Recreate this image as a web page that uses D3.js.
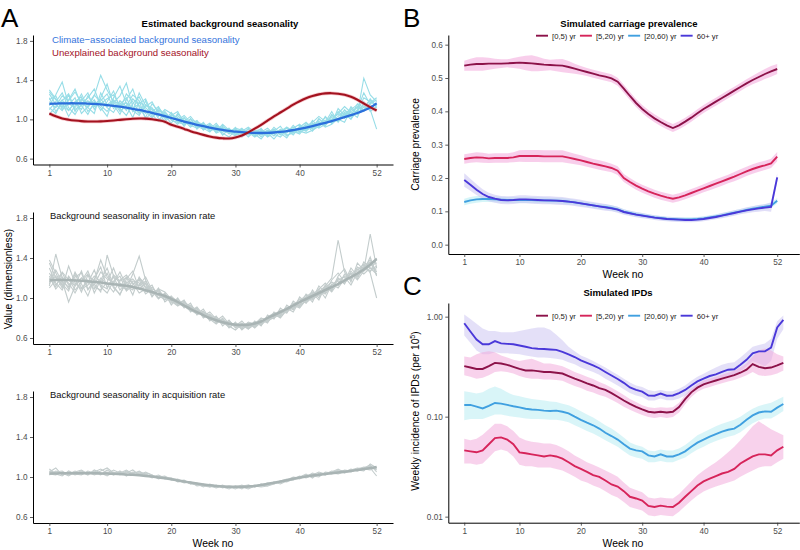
<!DOCTYPE html>
<html><head><meta charset="utf-8">
<script src="https://cdn.jsdelivr.net/npm/d3@7"></script>
<style>body{margin:0;background:#fff} svg{display:block} text{font-family:"Liberation Sans",Arial,sans-serif}</style>
</head><body><svg id="c" width="800" height="550"></svg>
<script>
// ---------- DATA ----------
const weeksA = d3.range(1, 53);
const weeksB = d3.range(1, 53);
const weeksC = d3.range(1, 54);
const xTickVals = [1, 10, 20, 30, 40, 52];
const seasonTicks = [0.6, 1.0, 1.4, 1.8];
const carriageTicks = [0, 0.1, 0.2, 0.3, 0.4, 0.5, 0.6];
const ipdTicks = [0.01, 0.1, 1];
const ageGroups = ["[0,5) yr", "[5,20) yr", "[20,60) yr", "60+ yr"];

// Panel A top: climate-associated smooth (blue) and unexplained (red)
const climateSmooth = [1.158,1.161,1.163,1.164,1.164,1.163,1.161,1.158,1.153,1.146,1.138,1.129,1.119,1.108,1.096,1.082,1.067,1.050,1.032,1.014,0.996,0.978,0.961,0.945,0.930,0.916,0.903,0.892,0.882,0.875,0.869,0.865,0.862,0.861,0.862,0.866,0.872,0.880,0.891,0.903,0.917,0.932,0.948,0.965,0.983,1.002,1.022,1.043,1.065,1.090,1.120,1.163];
const unexplained = [1.060,1.032,1.010,0.997,0.988,0.982,0.979,0.978,0.980,0.984,0.989,0.995,1.001,1.006,1.009,1.008,1.002,0.991,0.976,0.945,0.925,0.903,0.880,0.860,0.842,0.826,0.814,0.807,0.805,0.815,0.835,0.868,0.905,0.945,0.988,1.030,1.070,1.110,1.150,1.185,1.215,1.238,1.255,1.265,1.267,1.262,1.250,1.230,1.200,1.162,1.125,1.090];
const climateRuns = [
[1.30,1.21,1.12,1.25,1.08,1.19,1.27,1.10,1.22,1.36,1.15,1.05,1.20,1.31,1.12,1.02,1.16,1.08,0.97,1.05,1.02,0.93,1.01,0.90,0.96,0.88,0.93,0.84,0.90,0.86,0.83,0.91,0.85,0.80,0.88,0.83,0.90,0.86,0.94,0.87,0.96,0.90,1.01,0.94,1.05,0.99,1.10,1.03,1.16,1.12,1.20,1.14],
[1.22,1.08,1.17,1.03,1.14,1.26,1.12,1.20,1.09,1.18,1.29,1.11,1.04,1.16,1.23,1.09,1.01,1.12,1.04,0.96,1.06,0.99,0.92,0.98,0.89,0.95,0.87,0.92,0.85,0.91,0.89,0.82,0.88,0.90,0.84,0.92,0.86,0.81,0.91,0.95,0.88,0.99,0.92,1.03,0.96,1.08,1.01,1.13,1.06,1.42,1.25,1.18],
[1.14,1.25,1.38,1.15,1.22,1.06,1.13,1.24,1.45,1.30,1.18,1.08,1.14,1.02,1.18,1.12,1.05,0.98,1.08,1.00,0.95,1.02,0.94,0.91,0.97,0.88,0.91,0.86,0.82,0.89,0.86,0.90,0.83,0.87,0.91,0.85,0.82,0.89,0.84,0.92,0.97,0.91,0.95,1.02,0.96,1.11,1.04,1.01,1.09,1.15,1.10,0.90],
[1.26,1.15,1.09,1.20,1.31,1.14,1.05,1.18,1.12,1.03,1.22,1.34,1.16,1.09,1.04,1.15,1.10,1.01,0.99,1.07,0.98,0.95,1.00,0.93,0.90,0.94,0.86,0.89,0.91,0.84,0.88,0.85,0.89,0.82,0.87,0.90,0.84,0.92,0.88,0.85,0.93,0.97,1.03,0.98,1.00,1.06,1.13,1.07,1.02,1.18,1.08,1.13],
[1.10,1.18,1.27,1.12,1.05,1.16,1.22,1.31,1.14,1.08,1.17,1.24,1.37,1.13,1.06,1.19,1.02,1.09,1.05,1.00,1.04,0.97,0.95,0.99,0.91,0.87,0.94,0.90,0.87,0.83,0.90,0.86,0.84,0.89,0.86,0.80,0.88,0.91,0.86,0.90,0.88,0.94,0.98,0.93,1.04,1.00,0.97,1.10,1.15,1.09,1.21,1.12],
[1.18,1.12,1.20,1.09,1.17,1.10,1.24,1.14,1.19,1.26,1.11,1.17,1.09,1.21,1.14,1.06,1.11,1.04,1.07,0.99,0.97,1.01,0.96,0.93,0.95,0.91,0.89,0.93,0.88,0.90,0.85,0.88,0.86,0.84,0.87,0.89,0.85,0.88,0.92,0.89,0.91,0.96,0.94,0.99,1.02,1.05,1.03,1.08,1.12,1.10,1.16,1.20],
[1.05,1.13,1.24,1.19,1.28,1.17,1.12,1.06,1.27,1.15,1.20,1.10,1.26,1.18,1.07,1.13,1.18,1.06,1.01,1.04,1.08,0.96,0.98,0.92,0.94,0.90,0.96,0.88,0.86,0.92,0.82,0.87,0.85,0.91,0.83,0.88,0.93,0.84,0.86,0.93,0.89,0.92,1.00,0.96,0.99,1.03,1.09,1.05,1.13,1.08,1.17,1.22],
[1.28,1.20,1.14,1.09,1.18,1.23,1.08,1.15,1.21,1.12,1.07,1.19,1.13,1.25,1.19,1.00,1.08,1.13,1.02,1.03,0.99,1.04,0.97,0.96,0.92,0.96,0.90,0.87,0.90,0.87,0.91,0.84,0.87,0.85,0.89,0.86,0.89,0.87,0.90,0.88,0.86,0.89,0.93,0.97,1.08,0.97,1.06,1.00,1.10,1.27,1.15,1.10],
[1.12,1.06,1.19,1.26,1.10,1.14,1.19,1.13,1.16,1.21,1.25,1.14,1.17,1.11,1.16,1.21,1.06,1.10,1.05,1.02,1.01,0.98,1.03,0.95,0.93,0.89,0.92,0.91,0.86,0.88,0.89,0.87,0.82,0.86,0.88,0.87,0.89,0.83,0.88,0.91,0.94,0.88,0.97,0.92,0.95,1.01,1.05,1.11,1.05,1.13,1.11,1.17],
[1.20,1.24,1.10,1.16,1.12,1.21,1.15,1.25,1.17,1.13,1.19,1.15,1.22,1.08,1.27,1.14,1.12,1.03,1.10,1.06,0.97,0.95,1.00,0.97,0.95,0.92,0.88,0.95,0.89,0.85,0.88,0.92,0.87,0.88,0.82,0.86,0.88,0.92,0.87,0.87,0.90,0.95,0.91,0.95,1.00,0.98,1.07,1.04,1.08,1.22,1.18,1.14]
];
// Panel A middle: invasion rate
const invasionSmooth = [1.178,1.180,1.180,1.179,1.176,1.172,1.167,1.161,1.154,1.146,1.138,1.131,1.122,1.110,1.095,1.078,1.060,1.040,1.020,0.990,0.960,0.925,0.890,0.858,0.828,0.800,0.777,0.757,0.742,0.733,0.730,0.733,0.745,0.765,0.800,0.830,0.860,0.890,0.925,0.960,0.990,1.020,1.050,1.080,1.110,1.140,1.175,1.210,1.245,1.285,1.335,1.390];
const invasionRuns = [
[1.38,1.25,1.12,1.20,1.08,1.16,1.24,1.05,1.18,1.30,1.12,1.03,1.19,1.27,1.09,1.15,1.02,1.10,0.96,1.01,0.94,0.98,0.86,0.90,0.80,0.84,0.75,0.79,0.70,0.76,0.68,0.74,0.71,0.78,0.75,0.86,0.82,0.93,0.88,1.01,0.95,1.08,1.00,1.13,1.07,1.20,1.14,1.27,1.19,1.33,1.26,1.40],
[1.12,1.44,1.20,1.09,1.26,1.14,1.02,1.19,1.31,1.10,1.21,1.08,1.16,1.03,1.21,1.11,1.07,0.99,1.05,0.93,1.00,0.90,0.95,0.83,0.87,0.77,0.82,0.72,0.78,0.70,0.75,0.69,0.77,0.72,0.83,0.79,0.90,0.85,0.97,0.92,1.04,0.99,1.12,1.05,1.18,1.25,1.16,1.30,1.22,1.36,1.30,1.24],
[1.30,1.15,1.08,1.22,1.13,1.27,1.09,1.14,1.06,1.43,1.22,1.15,1.09,1.24,1.42,1.18,1.04,1.08,1.01,0.97,0.92,0.96,0.88,0.84,0.89,0.79,0.74,0.80,0.72,0.68,0.74,0.71,0.76,0.73,0.79,0.84,0.80,0.88,0.95,0.91,0.99,1.05,0.98,1.12,1.20,1.58,1.26,1.18,1.31,1.27,1.41,1.22],
[1.22,1.09,1.17,0.96,1.12,1.20,1.15,1.28,1.11,1.05,1.17,1.22,1.07,1.13,1.18,1.06,1.11,1.03,0.98,1.02,0.95,0.91,0.93,0.87,0.82,0.86,0.79,0.75,0.77,0.72,0.70,0.76,0.74,0.80,0.77,0.81,0.87,0.90,0.86,0.97,1.03,0.96,1.09,1.15,1.08,1.22,1.29,1.16,1.35,1.28,1.64,1.30],
[1.10,1.18,1.25,1.13,1.19,1.06,1.23,1.17,1.38,1.21,1.15,1.26,1.12,1.08,1.20,1.14,1.01,1.09,1.06,0.99,0.94,0.97,0.90,0.86,0.84,0.78,0.81,0.76,0.73,0.75,0.69,0.73,0.72,0.75,0.81,0.85,0.83,0.91,0.89,0.94,1.01,1.06,1.03,1.10,1.16,1.12,1.24,1.19,1.28,1.34,1.25,1.00],
[1.35,1.20,1.14,1.07,1.24,1.10,1.16,1.09,1.20,1.14,1.06,1.18,1.23,1.15,1.05,1.09,1.13,1.00,1.03,0.95,0.98,0.92,0.87,0.91,0.83,0.80,0.77,0.82,0.74,0.72,0.77,0.70,0.73,0.78,0.76,0.82,0.88,0.86,0.92,0.99,0.95,1.01,1.07,1.04,1.13,1.18,1.21,1.13,1.26,1.31,1.38,1.26],
[1.16,1.22,1.10,1.32,1.15,1.09,1.13,1.22,1.16,1.25,1.10,1.04,1.15,1.19,1.12,1.17,1.06,1.03,1.00,0.97,0.99,0.93,0.91,0.85,0.86,0.82,0.76,0.78,0.75,0.71,0.72,0.75,0.70,0.76,0.78,0.80,0.84,0.89,0.91,0.93,0.97,1.03,1.09,1.00,1.14,1.10,1.19,1.25,1.18,1.27,1.32,1.35],
[1.25,1.13,1.21,1.15,1.05,1.17,1.27,1.11,1.08,1.16,1.30,1.13,1.08,1.17,1.15,1.04,1.09,1.06,1.02,1.00,0.96,0.94,0.89,0.88,0.81,0.83,0.80,0.74,0.76,0.73,0.71,0.72,0.75,0.74,0.79,0.83,0.85,0.87,0.90,0.96,1.00,0.98,1.04,1.09,1.13,1.17,1.15,1.22,1.29,1.24,1.30,1.29],
[1.14,1.28,1.16,1.11,1.21,1.25,1.08,1.19,1.13,1.09,1.23,1.17,1.20,1.10,1.13,1.21,1.08,1.00,1.04,0.98,0.93,0.95,0.92,0.86,0.85,0.81,0.78,0.76,0.71,0.74,0.73,0.69,0.74,0.76,0.77,0.84,0.81,0.88,0.93,0.90,0.98,1.00,1.06,1.12,1.06,1.15,1.22,1.20,1.23,1.30,1.36,1.23],
[1.20,1.11,1.26,1.18,1.12,1.20,1.18,1.13,1.26,1.19,1.16,1.11,1.21,1.14,1.19,1.10,1.05,1.07,1.00,1.01,0.97,0.92,0.90,0.89,0.84,0.79,0.79,0.77,0.73,0.74,0.74,0.74,0.72,0.79,0.80,0.82,0.86,0.85,0.94,0.95,0.99,1.04,1.02,1.07,1.10,1.14,1.17,1.24,1.21,1.29,1.27,1.32]
];
// Panel A bottom: acquisition rate
const acquisitionSmooth = [1.035,1.036,1.037,1.038,1.038,1.038,1.038,1.037,1.036,1.034,1.032,1.029,1.026,1.022,1.017,1.011,1.004,0.996,0.987,0.977,0.966,0.955,0.944,0.934,0.925,0.917,0.911,0.906,0.903,0.902,0.903,0.906,0.911,0.921,0.932,0.943,0.955,0.968,0.982,0.995,1.005,1.014,1.022,1.030,1.037,1.045,1.053,1.061,1.070,1.079,1.089,1.100];
const acquisitionRuns = [
[1.08,1.03,1.01,1.06,1.03,1.05,1.02,1.07,1.04,1.01,1.05,1.03,1.06,1.02,1.04,1.01,1.00,1.02,0.99,0.98,0.96,0.97,0.93,0.94,0.91,0.92,0.90,0.92,0.89,0.91,0.88,0.92,0.90,0.93,0.92,0.95,0.94,0.97,0.99,0.98,1.02,1.00,1.03,1.02,1.05,1.04,1.07,1.06,1.08,1.07,1.10,1.08],
[1.02,1.06,1.04,1.01,1.05,1.07,1.03,1.05,1.08,1.04,1.02,1.06,1.01,1.05,1.03,1.04,1.02,0.99,1.00,0.97,0.98,0.95,0.94,0.92,0.93,0.90,0.92,0.89,0.91,0.90,0.92,0.89,0.91,0.92,0.94,0.93,0.96,0.98,0.97,1.00,1.01,1.03,1.01,1.04,1.03,1.06,1.05,1.08,1.06,1.09,1.12,1.05],
[1.05,1.09,1.02,1.04,1.03,1.02,1.06,1.04,1.02,1.07,1.03,1.05,1.04,1.07,1.02,1.03,0.99,1.01,0.98,0.99,0.95,0.96,0.95,0.91,0.92,0.91,0.89,0.91,0.90,0.88,0.91,0.92,0.90,0.92,0.93,0.94,0.95,0.97,1.00,0.99,1.00,1.04,1.02,1.03,1.06,1.05,1.04,1.07,1.09,1.08,1.07,1.10],
[1.03,1.02,1.05,1.03,1.06,1.03,1.04,1.03,1.06,1.09,1.04,1.02,1.05,1.03,1.06,1.02,1.01,1.00,1.01,0.97,0.97,0.96,0.93,0.93,0.90,0.93,0.91,0.90,0.88,0.91,0.90,0.90,0.92,0.91,0.92,0.95,0.93,0.96,0.98,1.01,0.99,1.02,1.05,1.03,1.04,1.07,1.06,1.05,1.08,1.10,1.09,1.01],
[1.06,1.04,1.03,1.05,1.02,1.04,1.05,1.02,1.04,1.03,1.07,1.04,1.02,1.04,1.05,1.03,1.00,1.00,0.99,0.98,0.96,0.95,0.94,0.92,0.91,0.90,0.91,0.90,0.90,0.89,0.89,0.91,0.91,0.90,0.91,0.93,0.95,0.96,0.97,0.99,1.02,1.01,1.00,1.05,1.04,1.03,1.05,1.07,1.06,1.08,1.11,1.07],
[1.04,1.05,1.06,1.02,1.04,1.06,1.03,1.06,1.03,1.05,1.02,1.04,1.07,1.03,1.02,1.05,1.02,0.98,1.00,0.99,0.97,0.94,0.95,0.93,0.92,0.91,0.90,0.91,0.91,0.90,0.90,0.88,0.91,0.93,0.91,0.94,0.96,0.95,0.98,1.00,1.03,0.99,1.04,1.02,1.05,1.08,1.04,1.06,1.07,1.06,1.13,1.09]
];

// Panel B: carriage prevalence (mean and half-width of band)
const carriage0_5 = [0.537,0.540,0.542,0.542,0.543,0.543,0.543,0.544,0.545,0.546,0.545,0.544,0.542,0.540,0.539,0.538,0.537,0.533,0.528,0.523,0.518,0.513,0.508,0.504,0.499,0.489,0.468,0.446,0.425,0.407,0.392,0.379,0.368,0.358,0.350,0.358,0.369,0.381,0.394,0.407,0.418,0.429,0.440,0.451,0.462,0.473,0.484,0.494,0.503,0.512,0.520,0.527];
const carriage0_5sd = [0.015,0.018,0.020,0.020,0.018,0.015,0.013,0.012,0.015,0.018,0.022,0.024,0.022,0.018,0.016,0.018,0.020,0.018,0.015,0.013,0.012,0.012,0.012,0.012,0.012,0.012,0.012,0.012,0.012,0.012,0.012,0.012,0.012,0.012,0.012,0.012,0.012,0.012,0.012,0.012,0.012,0.012,0.012,0.012,0.012,0.012,0.012,0.013,0.014,0.015,0.016,0.015];
const carriage5_20 = [0.257,0.260,0.262,0.261,0.259,0.260,0.260,0.260,0.262,0.266,0.266,0.266,0.266,0.265,0.265,0.265,0.265,0.261,0.257,0.253,0.248,0.243,0.239,0.235,0.230,0.222,0.200,0.188,0.177,0.168,0.160,0.153,0.147,0.142,0.138,0.142,0.148,0.155,0.162,0.169,0.176,0.183,0.190,0.197,0.204,0.212,0.220,0.227,0.233,0.238,0.244,0.264];
const carriage5_20sd = [0.014,0.014,0.015,0.015,0.014,0.014,0.014,0.014,0.015,0.017,0.018,0.018,0.018,0.018,0.018,0.018,0.018,0.017,0.016,0.015,0.014,0.014,0.014,0.014,0.013,0.013,0.012,0.012,0.012,0.012,0.012,0.012,0.012,0.012,0.012,0.012,0.012,0.012,0.012,0.012,0.013,0.013,0.013,0.013,0.014,0.014,0.014,0.014,0.014,0.014,0.014,0.014];
const carriage20_60 = [0.128,0.133,0.136,0.137,0.137,0.136,0.135,0.134,0.134,0.134,0.134,0.134,0.133,0.133,0.132,0.132,0.131,0.129,0.127,0.124,0.121,0.118,0.115,0.113,0.110,0.106,0.099,0.095,0.091,0.088,0.085,0.082,0.080,0.078,0.077,0.076,0.076,0.076,0.077,0.079,0.082,0.085,0.088,0.092,0.096,0.100,0.104,0.108,0.111,0.114,0.117,0.132];
const carriage20_60sd = [0.010,0.010,0.010,0.009,0.009,0.009,0.009,0.009,0.009,0.009,0.009,0.009,0.009,0.009,0.009,0.009,0.009,0.009,0.008,0.008,0.008,0.008,0.008,0.008,0.008,0.008,0.007,0.007,0.007,0.007,0.006,0.006,0.006,0.006,0.006,0.006,0.006,0.006,0.006,0.006,0.006,0.006,0.007,0.007,0.007,0.007,0.007,0.007,0.008,0.008,0.008,0.008];
const carriage60 = [0.194,0.180,0.165,0.152,0.143,0.138,0.134,0.133,0.134,0.136,0.136,0.135,0.134,0.133,0.133,0.132,0.131,0.129,0.127,0.124,0.121,0.118,0.115,0.112,0.109,0.105,0.098,0.094,0.090,0.087,0.084,0.081,0.079,0.077,0.076,0.075,0.074,0.074,0.075,0.077,0.080,0.083,0.087,0.091,0.095,0.099,0.103,0.106,0.109,0.111,0.113,0.202];
const carriage60sd = [0.020,0.018,0.016,0.014,0.013,0.012,0.012,0.012,0.012,0.012,0.012,0.012,0.012,0.012,0.012,0.012,0.012,0.011,0.011,0.011,0.010,0.010,0.010,0.010,0.009,0.009,0.008,0.008,0.008,0.008,0.007,0.007,0.007,0.007,0.007,0.007,0.007,0.007,0.007,0.007,0.007,0.007,0.008,0.008,0.008,0.008,0.009,0.009,0.010,0.010,0.014,0.012];

// Panel C: weekly incidence of IPDs per 1e5 (mean, lower, upper)
const ipd0_5 = [0.32,0.31,0.30,0.30,0.32,0.345,0.34,0.33,0.315,0.30,0.29,0.29,0.285,0.28,0.28,0.275,0.27,0.255,0.24,0.228,0.215,0.205,0.193,0.185,0.172,0.158,0.145,0.134,0.125,0.118,0.112,0.11,0.112,0.11,0.112,0.125,0.15,0.175,0.195,0.21,0.22,0.23,0.24,0.25,0.26,0.275,0.295,0.335,0.315,0.305,0.31,0.325,0.345];
const ipd0_5hi = [0.40,0.39,0.42,0.44,0.45,0.44,0.41,0.39,0.37,0.36,0.37,0.38,0.36,0.34,0.34,0.33,0.32,0.30,0.28,0.265,0.25,0.238,0.222,0.21,0.195,0.18,0.165,0.15,0.14,0.13,0.124,0.122,0.124,0.123,0.124,0.138,0.165,0.19,0.212,0.23,0.24,0.25,0.262,0.275,0.29,0.31,0.34,0.40,0.46,0.48,0.46,0.42,0.40];
const ipd0_5lo = [0.26,0.25,0.24,0.245,0.26,0.28,0.285,0.28,0.27,0.255,0.245,0.24,0.24,0.235,0.235,0.232,0.228,0.215,0.203,0.193,0.182,0.174,0.165,0.158,0.148,0.137,0.126,0.117,0.11,0.104,0.099,0.097,0.099,0.097,0.099,0.11,0.133,0.157,0.177,0.19,0.198,0.207,0.216,0.225,0.233,0.245,0.26,0.28,0.26,0.255,0.26,0.27,0.29];
const ipd5_20 = [0.046,0.045,0.044,0.046,0.053,0.061,0.062,0.059,0.053,0.044,0.043,0.042,0.041,0.04,0.041,0.04,0.038,0.035,0.032,0.03,0.028,0.026,0.025,0.023,0.021,0.02,0.018,0.0158,0.0152,0.0145,0.0128,0.0125,0.0129,0.0126,0.0125,0.0138,0.0158,0.018,0.0205,0.0225,0.024,0.0255,0.027,0.028,0.03,0.034,0.037,0.04,0.042,0.042,0.041,0.046,0.05];
const ipd5_20hi = [0.06,0.058,0.06,0.066,0.075,0.085,0.085,0.08,0.072,0.062,0.058,0.056,0.055,0.054,0.054,0.052,0.049,0.045,0.041,0.038,0.035,0.033,0.031,0.029,0.027,0.025,0.022,0.0195,0.0185,0.0175,0.0155,0.0152,0.0155,0.0153,0.0152,0.0168,0.0195,0.0225,0.026,0.029,0.032,0.035,0.039,0.044,0.05,0.058,0.068,0.08,0.09,0.082,0.075,0.07,0.065];
const ipd5_20lo = [0.034,0.034,0.033,0.034,0.039,0.045,0.047,0.045,0.04,0.033,0.032,0.032,0.031,0.031,0.031,0.03,0.029,0.027,0.025,0.023,0.022,0.0205,0.0195,0.018,0.0165,0.0155,0.014,0.0125,0.012,0.0115,0.0103,0.0101,0.0104,0.0102,0.0101,0.0112,0.0128,0.0145,0.0163,0.0178,0.019,0.02,0.021,0.022,0.023,0.025,0.027,0.029,0.031,0.032,0.032,0.035,0.038];
const ipd20_60 = [0.131,0.131,0.126,0.121,0.128,0.137,0.135,0.131,0.127,0.124,0.12,0.118,0.117,0.115,0.114,0.115,0.112,0.108,0.1,0.093,0.087,0.082,0.076,0.069,0.064,0.059,0.053,0.048,0.046,0.045,0.041,0.04,0.042,0.04,0.04,0.042,0.045,0.05,0.055,0.059,0.063,0.067,0.071,0.074,0.076,0.083,0.093,0.103,0.11,0.113,0.112,0.123,0.134];
const ipd20_60hi = [0.18,0.175,0.17,0.175,0.19,0.2,0.19,0.175,0.165,0.16,0.155,0.15,0.148,0.145,0.142,0.14,0.135,0.13,0.122,0.113,0.105,0.098,0.09,0.082,0.076,0.069,0.062,0.055,0.052,0.05,0.046,0.045,0.047,0.046,0.046,0.048,0.052,0.058,0.065,0.07,0.075,0.08,0.085,0.089,0.093,0.1,0.11,0.12,0.128,0.133,0.138,0.148,0.158];
const ipd20_60lo = [0.092,0.095,0.095,0.095,0.1,0.105,0.105,0.102,0.1,0.098,0.096,0.095,0.095,0.094,0.093,0.093,0.091,0.088,0.082,0.077,0.072,0.068,0.063,0.058,0.054,0.05,0.045,0.041,0.039,0.038,0.035,0.035,0.036,0.035,0.035,0.037,0.039,0.043,0.047,0.05,0.054,0.057,0.06,0.063,0.065,0.07,0.078,0.086,0.092,0.096,0.096,0.104,0.114];
const ipd60 = [0.86,0.71,0.59,0.53,0.53,0.57,0.54,0.535,0.53,0.515,0.50,0.485,0.478,0.475,0.47,0.465,0.445,0.42,0.395,0.365,0.345,0.325,0.305,0.28,0.258,0.238,0.218,0.196,0.185,0.178,0.163,0.162,0.17,0.162,0.163,0.172,0.185,0.205,0.225,0.24,0.255,0.265,0.28,0.295,0.298,0.33,0.37,0.43,0.45,0.45,0.49,0.78,0.93];
const ipd60hi = [1.05,0.95,0.85,0.76,0.72,0.72,0.70,0.70,0.70,0.72,0.74,0.76,0.78,0.78,0.74,0.66,0.58,0.50,0.45,0.41,0.385,0.36,0.335,0.31,0.285,0.262,0.24,0.22,0.205,0.198,0.185,0.18,0.185,0.18,0.18,0.19,0.205,0.228,0.25,0.268,0.29,0.31,0.33,0.345,0.35,0.39,0.44,0.5,0.52,0.54,0.6,0.9,1.03];
const ipd60lo = [0.65,0.55,0.46,0.42,0.42,0.44,0.43,0.43,0.425,0.42,0.41,0.40,0.39,0.39,0.385,0.38,0.37,0.35,0.335,0.31,0.295,0.28,0.262,0.24,0.222,0.205,0.188,0.172,0.163,0.157,0.145,0.145,0.152,0.146,0.146,0.152,0.163,0.18,0.198,0.212,0.225,0.232,0.245,0.255,0.258,0.285,0.32,0.36,0.34,0.32,0.36,0.6,0.75];

// ---------- STYLE ----------
const ageColors = ["#8c1249", "#d6245a", "#40a0e0", "#4a38d9"];
const bandColors = ["#f2a6da", "#f2a6da", "#b4ecf2", "#c9c2f2"];
const FONT = '"Liberation Sans", Arial, sans-serif';
const svg = d3.select("#c");

function axes(g, x, y, yTicks, yFmt) {
  const ax = g.append("g").attr("transform", `translate(0,${y.range()[0]})`)
    .call(d3.axisBottom(x).tickValues(xTickVals).tickSize(3).tickPadding(2.5).tickSizeOuter(0).tickFormat(d3.format("d")));
  const ay = g.append("g").attr("transform", `translate(${x.range()[0]},0)`)
    .call(d3.axisLeft(y).tickValues(yTicks).tickSize(3).tickPadding(2.5).tickSizeOuter(0).tickFormat(yFmt));
  [ax, ay].forEach(a => {
    a.select(".domain").attr("stroke", "#000").attr("stroke-width", 1);
    a.selectAll(".tick line").attr("stroke", "#333").attr("stroke-width", 0.8);
    a.selectAll(".tick text").attr("fill", "#4d4d4d").style("font-size", "8.2px").style("font-family", FONT);
  });
}

// ---------- PANEL A ----------
const xA = d3.scaleLinear().domain([-1.55, 54.55]).range([33, 393]);
const panelsA = [
  { yr: [164.5, 35], runs: climateRuns, runColor: "#97dde7", smooth: null },
  { yr: [344, 212], runs: invasionRuns, runColor: "#c3cccc", smooth: invasionSmooth, label: "Background seasonality in invasion rate" },
  { yr: [523, 391], runs: acquisitionRuns, runColor: "#c3cccc", smooth: acquisitionSmooth, label: "Background seasonality in acquisition rate" }
];
panelsA.forEach((p, i) => {
  const y = d3.scaleLinear().domain([0.54, 1.86]).range(p.yr);
  const g = svg.append("g");
  const line = d3.line().x((d, j) => xA(weeksA[j])).y(d => y(d));
  const smoothLine = d3.line().x((d, j) => xA(weeksA[j])).y(d => y(d)).curve(d3.curveCatmullRom);
  g.selectAll("path.run").data(p.runs).enter().append("path")
    .attr("d", line).attr("fill", "none").attr("stroke", p.runColor).attr("stroke-width", 1.1);
  if (i === 0) {
    g.append("path").attr("d", smoothLine(unexplained)).attr("fill", "none").attr("stroke", "#f2a0a8").attr("stroke-width", 3.6).attr("opacity", 0.6);
    g.append("path").attr("d", smoothLine(climateSmooth)).attr("fill", "none").attr("stroke", "#2b6fdc").attr("stroke-width", 2.3);
    g.append("path").attr("d", smoothLine(unexplained)).attr("fill", "none").attr("stroke", "#a3121f").attr("stroke-width", 2.1);
    g.append("text").attr("x", 52).attr("y", 42.5).attr("fill", "#3574dc").style("font-size", "9.6px").text("Climate\u2212associated background seasonality");
    g.append("text").attr("x", 52).attr("y", 55.5).attr("fill", "#a3121f").style("font-size", "9.6px").text("Unexplained background seasonality");
    g.append("text").attr("x", 220).attr("y", 26.5).attr("text-anchor", "middle").style("font-size", "9.5px").style("font-weight", "bold").text("Estimated background seasonality");
  } else {
    g.append("path").attr("d", smoothLine(p.smooth)).attr("fill", "none").attr("stroke", "#a9b4b4").attr("stroke-width", 2.5);
    g.append("text").attr("x", 50).attr("y", p.yr[1] + 6.5).style("font-size", "9.4px").attr("fill", "#111").text(p.label);
  }
  axes(g, xA, y, seasonTicks, d3.format(".1f"));
});
svg.append("text").attr("transform", "translate(11.5,279) rotate(-90)").attr("text-anchor", "middle").style("font-size", "10.3px").text("Value (dimensionless)");
svg.append("text").attr("x", 213).attr("y", 546.5).attr("text-anchor", "middle").style("font-size", "10.4px").text("Week no");

// ---------- PANEL B ----------
const xBC = d3.scaleLinear().domain([-1.6, 55.6]).range([448.3, 799.3]);
const yB = d3.scaleLinear().domain([-0.028, 0.629]).range([254, 35]);
const gB = svg.append("g");
const carriage = [carriage0_5, carriage5_20, carriage20_60, carriage60];
const carriageSd = [carriage0_5sd, carriage5_20sd, carriage20_60sd, carriage60sd];
carriage.forEach((s, k) => {
  const area = d3.area().x((d, j) => xBC(weeksB[j])).y0((d, j) => yB(d - carriageSd[k][j])).y1((d, j) => yB(d + carriageSd[k][j]));
  gB.append("path").attr("d", area(s)).attr("fill", bandColors[k]).attr("opacity", 0.55);
});
[2, 3, 1, 0].forEach(k => {
  const ln = d3.line().x((d, j) => xBC(weeksB[j])).y(d => yB(d));
  gB.append("path").attr("d", ln(carriage[k])).attr("fill", "none").attr("stroke", ageColors[k]).attr("stroke-width", 1.9);
});
axes(gB, xBC, yB, carriageTicks, d3.format(".1f"));
svg.append("text").attr("transform", "translate(419,144.5) rotate(-90)").attr("text-anchor", "middle").style("font-size", "10.3px").text("Carriage prevalence");
svg.append("text").attr("x", 623).attr("y", 277.5).attr("text-anchor", "middle").style("font-size", "10.4px").text("Week no");
svg.append("text").attr("x", 629).attr("y", 26.5).attr("text-anchor", "middle").style("font-size", "9.5px").style("font-weight", "bold").text("Simulated carriage prevalence");

// ---------- PANEL C ----------
const yC = d3.scaleLog().domain([0.0087, 1.37]).range([522.7, 303]);
const gC = svg.append("g");
const ipd = [ipd0_5, ipd5_20, ipd20_60, ipd60];
const ipdLo = [ipd0_5lo, ipd5_20lo, ipd20_60lo, ipd60lo];
const ipdHi = [ipd0_5hi, ipd5_20hi, ipd20_60hi, ipd60hi];
[3, 0, 2, 1].forEach(k => {
  const area = d3.area().x((d, j) => xBC(weeksC[j])).y0((d, j) => yC(ipdLo[k][j])).y1((d, j) => yC(ipdHi[k][j]));
  gC.append("path").attr("d", area(ipd[k])).attr("fill", bandColors[k]).attr("opacity", 0.5);
});
[2, 1, 0, 3].forEach(k => {
  const ln = d3.line().x((d, j) => xBC(weeksC[j])).y(d => yC(d));
  gC.append("path").attr("d", ln(ipd[k])).attr("fill", "none").attr("stroke", ageColors[k]).attr("stroke-width", 1.9);
});
axes(gC, xBC, yC, ipdTicks, d3.format(".2f"));
const yl = svg.append("text").attr("transform", "translate(419,411) rotate(-90)").attr("text-anchor", "middle").style("font-size", "10.3px");
yl.append("tspan").text("Weekly incidence of IPDs (per 10");
yl.append("tspan").attr("dy", -4).style("font-size", "7px").text("5");
yl.append("tspan").attr("dy", 4).text(")");
svg.append("text").attr("x", 623).attr("y", 546.5).attr("text-anchor", "middle").style("font-size", "10.4px").text("Week no");
svg.append("text").attr("x", 618).attr("y", 295.5).attr("text-anchor", "middle").style("font-size", "9.5px").style("font-weight", "bold").text("Simulated IPDs");

// ---------- LEGENDS ----------
function legend(yc) {
  let x = 536;
  ageGroups.forEach((name, k) => {
    svg.append("line").attr("x1", x).attr("x2", x + 12).attr("y1", yc).attr("y2", yc).attr("stroke", ageColors[k]).attr("stroke-width", 1.9);
    const t = svg.append("text").attr("x", x + 16).attr("y", yc + 2.8).style("font-size", "7.7px").attr("fill", "#222").text(name);
    x += 16 + t.node().getComputedTextLength() + 4;
  });
}
legend(35.7);
legend(315.7);

// ---------- PANEL LETTERS ----------
[["A", 1, 27], ["B", 403, 27], ["C", 403, 295]].forEach(([l, x, y]) =>
  svg.append("text").attr("x", x).attr("y", y).style("font-size", "26px").text(l));
</script></body></html>
